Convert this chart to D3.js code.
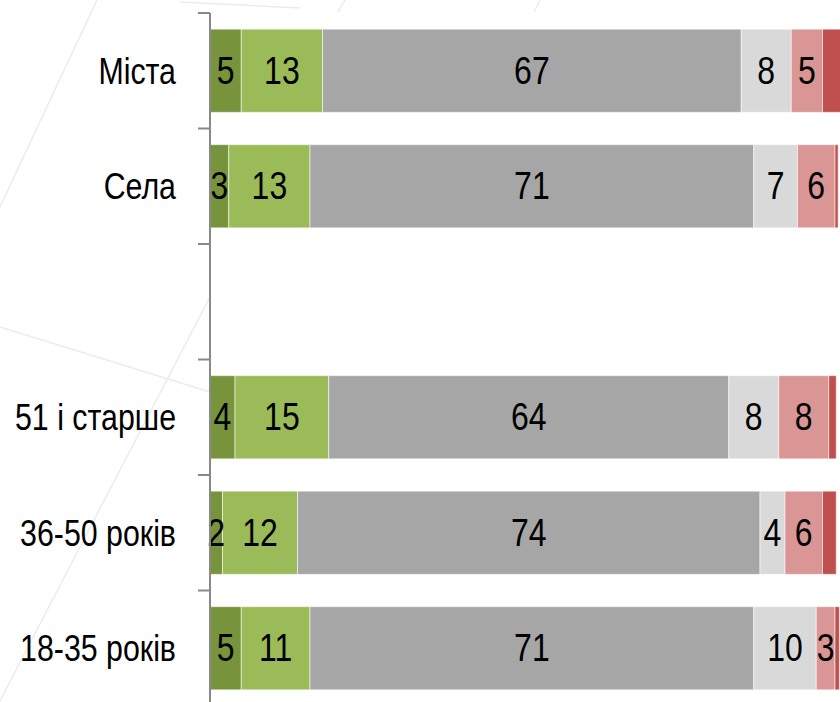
<!DOCTYPE html>
<html>
<head>
<meta charset="utf-8">
<script src="https://cdn.jsdelivr.net/npm/d3@7"></script>
<style>
  html, body { margin: 0; padding: 0; background: #ffffff; }
  svg { display: block; }
  text { font-family: "Liberation Sans", Arial, sans-serif; }
</style>
</head>
<body>
<svg id="chart" width="840" height="702"></svg>
<script>
// ---- data ----
const categories = ["Міста", "Села", "", "51 і старше", "36-50 років", "18-35 років"];
const seriesNames = ["s1", "s2", "s3", "s4", "s5", "s6"];
const s1 = [5, 3, null, 4, 2, 5];
const s2 = [13, 13, null, 15, 12, 11];
const s3 = [67, 71, null, 64, 74, 71];
const s4 = [8, 7, null, 8, 4, 10];
const s5 = [5, 6, null, 8, 6, 3];
const s6 = [3, 0.5, null, 1.2, 2.2, 0.7];
const seriesValues = [s1, s2, s3, s4, s5, s6];
const seriesColors = ["#77933C", "#9BBB59", "#A6A6A6", "#D9D9D9", "#D99694", "#C0504D"];
const labelledSeries = [true, true, true, true, true, false];

// ---- layout ----
const svg = d3.select("#chart");
const W = 840, H = 702;
const plotLeft = 210, plotRight = 835, plotTop = 13, plotBottom = 706;
const narrow = 0.82;

// faint background decoration lines
const bg = svg.append("g").attr("stroke", "#ececec").attr("stroke-width", 1.5).attr("fill", "none");
const bgLines = [
  [[97, 0], [0, 207]],
  [[210, 297], [-10, 720]],
  [[0, 327], [210, 392]],
  [[345, 0], [338, 12]],
  [[540, 0], [534, 12]],
  [[180, 2], [300, 8]]
];
bgLines.forEach(l => bg.append("line").attr("x1", l[0][0]).attr("y1", l[0][1]).attr("x2", l[1][0]).attr("y2", l[1][1]));

// white plot area
svg.append("rect").attr("x", plotLeft).attr("y", plotTop).attr("width", W - plotLeft).attr("height", H - plotTop).attr("fill", "#ffffff");

const keys = categories.map(c => c === "" ? " " : c);
const y = d3.scaleBand().domain(keys).range([plotTop, plotBottom]).paddingInner(0.28).paddingOuter(0.14);
const x = d3.scaleLinear().domain([0, 100]).range([plotLeft, plotRight]);

// build rows
const rows = keys.map((k, i) => {
  const r = { key: k };
  seriesNames.forEach((s, j) => r[s] = seriesValues[j][i] || 0);
  return r;
});
const stack = d3.stack().keys(seriesNames)(rows);

const gBars = svg.append("g");
const gLabels = svg.append("g");
stack.forEach((layer, j) => {
  const g = gBars.append("g").attr("fill", seriesColors[j]);
  const segs = layer.filter(d => d[1] - d[0] > 0);
  g.selectAll("rect").data(segs).join("rect")
    .attr("x", d => x(d[0]))
    .attr("y", d => y(d.data.key))
    .attr("width", d => x(d[1]) - x(d[0]))
    .attr("height", y.bandwidth())
    .attr("stroke", "rgba(255,255,255,0.55)")
    .attr("stroke-width", 1);
  if (labelledSeries[j]) {
    gLabels.append("g").selectAll("text").data(segs).join("text")
      .attr("transform", d => `translate(${(x(d[0]) + x(d[1])) / 2},${y(d.data.key) + y.bandwidth() / 2}) scale(${narrow},1)`)
      .attr("text-anchor", "middle")
      .attr("dominant-baseline", "central")
      .attr("font-size", 39)
      .attr("fill", "#000")
      .text(d => d[1] - d[0]);
  }
});

// axis (category boundaries)
const step = y.step();
const boundaries = d3.range(keys.length + 1).map(i => y.range()[0] + i * step);
const axis = svg.append("g").attr("stroke", "#898989");
axis.append("line").attr("x1", plotLeft).attr("x2", plotLeft).attr("y1", plotTop).attr("y2", H + 5).attr("stroke-width", 2);
axis.selectAll("line.tick").data(boundaries).join("line").attr("class", "tick")
  .attr("x1", plotLeft - 12).attr("x2", plotLeft).attr("y1", d => d).attr("y2", d => d).attr("stroke-width", 2);

// category labels
svg.append("g").selectAll("text").data(keys).join("text")
  .attr("transform", d => `translate(176,${y(d) + y.bandwidth() / 2}) scale(${narrow},1)`)
  .attr("text-anchor", "end")
  .attr("dominant-baseline", "central")
  .attr("font-size", 37)
  .attr("fill", "#000")
  .text(d => d.trim());
</script>
</body>
</html>
